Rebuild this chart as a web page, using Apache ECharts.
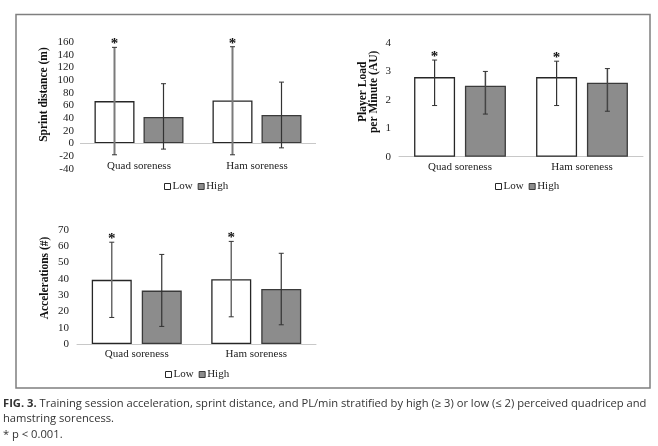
<!DOCTYPE html>
<html>
<head>
<meta charset="utf-8">
<script src="https://cdn.jsdelivr.net/npm/echarts@6/dist/echarts.min.js"></script>
<style>
html,body{margin:0;padding:0;background:#fff;}
#chart{width:658px;height:446px;}
</style>
</head>
<body>
<div id="chart"></div>
<script>
const categories = ['Quad soreness', 'Ham soreness'];
const seriesNames = ['Low', 'High'];

// Sprint distance (m)
const sprintLow = [67, 68];
const sprintLowUpper = [152, 153];
const sprintLowLower = [-18, -18];
const sprintHigh = [42, 45];
const sprintHighUpper = [94.5, 97];
const sprintHighLower = [-9, -7];

// Player Load per Minute (AU)
const plLow = [2.8, 2.8];
const plLowUpper = [3.4, 3.36];
const plLowLower = [1.8, 1.8];
const plHigh = [2.5, 2.6];
const plHighUpper = [3.0, 3.1];
const plHighLower = [1.5, 1.6];

// Accelerations (#)
const accLow = [39.4, 39.8];
const accLowUpper = [62.5, 63];
const accLowLower = [16.3, 16.7];
const accHigh = [32.8, 33.8];
const accHighUpper = [55, 55.7];
const accHighLower = [10.8, 11.8];

const significant = [true, true]; // * p < 0.001 on Low bars

const sprintTicks = {min: -40, max: 160, interval: 20};
const plTicks = {min: 0, max: 4, interval: 1};
const accTicks = {min: 0, max: 70, interval: 10};

const SERIF = '"Liberation Serif", "DejaVu Serif", serif';
const SANS = '"Open Sans", "Liberation Sans", Arial, sans-serif';

function errData(upper, lower) {
  return upper.map((u, i) => [i, u, lower[i]]);
}

function errSeries(gridIdx, upper, lower, offset, color, width, stars) {
  return {
    type: 'custom',
    xAxisIndex: gridIdx, yAxisIndex: gridIdx,
    z: 5, silent: true,
    encode: {x: 0, y: [1, 2]},
    data: errData(upper, lower),
    renderItem: function (params, api) {
      const i = api.value(0);
      const x = api.coord([i, 0])[0] + offset;
      const yT = api.coord([i, api.value(1)])[1];
      const yB = api.coord([i, api.value(2)])[1];
      const ls = {stroke: color, lineWidth: width};
      const children = [
        {type: 'line', shape: {x1: x, y1: yT, x2: x, y2: yB}, style: ls},
        {type: 'line', shape: {x1: x - 2.5, y1: yT, x2: x + 2.5, y2: yT}, style: {stroke: '#333', lineWidth: 1}},
        {type: 'line', shape: {x1: x - 2.5, y1: yB, x2: x + 2.5, y2: yB}, style: {stroke: '#333', lineWidth: 1}}
      ];
      if (stars && stars[i]) {
        children.push({type: 'text', style: {text: '*', x: x, y: yT - 3, align: 'center', verticalAlign: 'middle',
          font: 'bold 15px ' + SERIF, fill: '#111'}});
      }
      return {type: 'group', children: children};
    }
  };
}

const lowStyle = {color: '#ffffff', borderColor: '#262626', borderWidth: 1.3};
const highStyle = {color: '#8c8c8c', borderColor: '#3a3a3a', borderWidth: 1.3};

function yAxisCfg(gridIdx, ticks, name, gap, pad, margin) {
  return {
    type: 'value', gridIndex: gridIdx,
    min: ticks.min, max: ticks.max, interval: ticks.interval,
    axisLine: {show: false}, axisTick: {show: false}, splitLine: {show: false},
    axisLabel: {fontFamily: SERIF, fontSize: 11, color: '#222', margin: margin},
    name: name, nameLocation: 'middle', nameGap: gap, nameRotate: 90,
    nameTextStyle: {fontFamily: SERIF, fontSize: 11.5, fontWeight: 'bold', color: '#111', lineHeight: 11, padding: pad}
  };
}

function xAxisCfg(gridIdx, showLine, margin) {
  return {
    type: 'category', gridIndex: gridIdx, data: categories,
    axisLine: {show: showLine, onZero: false, lineStyle: {color: '#c8c8c8', width: 1}},
    axisTick: {show: false},
    axisLabel: {fontFamily: SERIF, fontSize: 11, color: '#222', margin: margin}
  };
}

function legendCfg(left, top) {
  return {
    data: seriesNames, left: left, top: top, orient: 'horizontal',
    icon: 'rect', itemWidth: 6, itemHeight: 6, itemGap: 5,
    selectedMode: false,
    itemStyle: {borderWidth: 1},
    textStyle: {fontFamily: SERIF, fontSize: 11, color: '#222', padding: [0, 0, 0, -3]}
  };
}

const chart = echarts.init(document.getElementById('chart'), null, {renderer: 'canvas'});

const option = {
  animation: false,
  backgroundColor: '#ffffff',
  grid: [
    {left: 80, width: 236, top: 42.3, height: 126.4},
    {left: 399, width: 244, top: 43, height: 113.7},
    {left: 77, width: 239, top: 230, height: 114}
  ],
  xAxis: [
    xAxisCfg(0, false, -8),
    xAxisCfg(1, true, 5),
    xAxisCfg(2, true, 5)
  ],
  yAxis: [
    yAxisCfg(0, sprintTicks, 'Sprint distance (m)', 30, [0, 0, 0, 22], 6),
    yAxisCfg(1, plTicks, 'Player Load\nper Minute (AU)', 19, [0, 0, 0, 16], 8),
    yAxisCfg(2, accTicks, 'Accelerations (#)', 26, [0, 0, 0, 18], 8)
  ],
  legend: [
    legendCfg(159, 176),
    legendCfg(490, 176),
    legendCfg(160, 364)
  ],
  series: [
    {name: 'Low', type: 'bar', xAxisIndex: 0, yAxisIndex: 0, data: sprintLow, barWidth: 40, barGap: '22.5%', itemStyle: lowStyle,
     markLine: {silent: true, symbol: ['none', 'none'], label: {show: false}, data: [{yAxis: 0}],
       lineStyle: {color: '#c8c8c8', width: 1, type: 'solid'}}},
    {name: 'High', type: 'bar', xAxisIndex: 0, yAxisIndex: 0, data: sprintHigh, barWidth: 40, barGap: '22.5%', itemStyle: highStyle},
    errSeries(0, sprintLowUpper, sprintLowLower, -24.5, '#7a7a7a', 2, significant),
    errSeries(0, sprintHighUpper, sprintHighLower, 24.5, '#333', 1.2, null),

    {name: 'Low', type: 'bar', xAxisIndex: 1, yAxisIndex: 1, data: plLow, barWidth: 41, barGap: '24%', itemStyle: lowStyle},
    {name: 'High', type: 'bar', xAxisIndex: 1, yAxisIndex: 1, data: plHigh, barWidth: 41, barGap: '24%', itemStyle: highStyle},
    errSeries(1, plLowUpper, plLowLower, -25.4, '#333', 1.2, significant),
    errSeries(1, plHighUpper, plHighLower, 25.4, '#444', 1.5, null),

    {name: 'Low', type: 'bar', xAxisIndex: 2, yAxisIndex: 2, data: accLow, barWidth: 40, barGap: '25%', itemStyle: lowStyle},
    {name: 'High', type: 'bar', xAxisIndex: 2, yAxisIndex: 2, data: accHigh, barWidth: 40, barGap: '25%', itemStyle: highStyle},
    errSeries(2, accLowUpper, accLowLower, -25, '#6a6a6a', 1.5, significant),
    errSeries(2, accHighUpper, accHighLower, 25, '#333', 1.2, null)
  ],
  graphic: [
    {type: 'rect', shape: {x: 16, y: 14.5, width: 634, height: 373.5}, silent: true,
     style: {fill: 'none', stroke: '#7f7f7f', lineWidth: 1.5}},
    {type: 'text', left: 3, top: 398, silent: true,
     style: {
       text: '{b|FIG. 3.} Training session acceleration, sprint distance, and PL/min stratified by high (\u2265 3) or low (\u2264 2) perceived quadricep and',
       font: '11.2px ' + SANS, fill: '#333',
       rich: {b: {font: 'bold 11.2px ' + SANS, fill: '#333'}}
     }},
    {type: 'text', left: 3, top: 413.5, silent: true,
     style: {text: 'hamstring sorencess.', font: '11.2px ' + SANS, fill: '#333'}},
    {type: 'text', left: 3, top: 429, silent: true,
     style: {text: '* p < 0.001.', font: '11.2px ' + SANS, fill: '#333'}}
  ]
};

chart.setOption(option);
</script>
</body>
</html>
